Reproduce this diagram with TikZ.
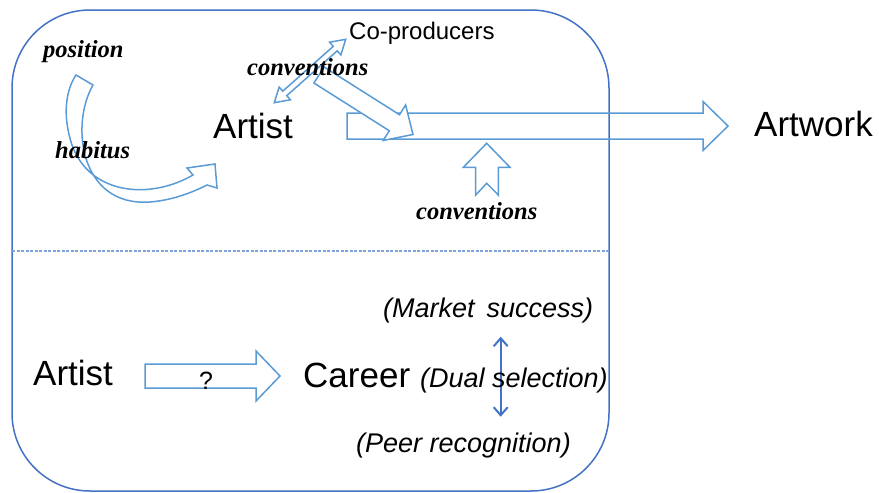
\documentclass[tikz,border=0pt]{standalone}
\usepackage{fontspec}
\setmainfont{Liberation Serif}
\newfontfamily\arialfont{Liberation Sans}
\usetikzlibrary{calc,arrows.meta}
\definecolor{boxblue}{HTML}{4472C4}
\definecolor{arrblue}{HTML}{5B9BD5}
\definecolor{dashblue}{HTML}{7FA3DC}
\tikzset{
  blockarrow/.style={draw=arrblue, line width=1.5pt, line join=miter},
  serifl/.style={font=\bfseries\itshape\fontsize{24.5}{28}\selectfont, anchor=base west, inner sep=0pt},
  sansbig/.style={font=\arialfont\fontsize{35}{40}\selectfont, anchor=base west, inner sep=0pt},
  sansmid/.style={font=\arialfont\fontsize{24}{28}\selectfont, anchor=base west, inner sep=0pt},
  sansit/.style={font=\arialfont\itshape\fontsize{27}{30}\selectfont, anchor=base west, inner sep=0pt},
}
% straight block arrow: [opts]{from}{to}{shaft half}{head half}{head length}
\newcommand{\myBArrow}[6][]{%
  \coordinate (bAh) at ($(#3)!#6!(#2)$);
  \draw[blockarrow,#1] ($(#2)!#4!90:(#3)$) -- ($(bAh)!#4!90:(#3)$) -- ($(bAh)!#5!90:(#3)$) -- (#3)
    -- ($(bAh)!#5!-90:(#3)$) -- ($(bAh)!#4!-90:(#3)$) -- ($(#2)!#4!-90:(#3)$) -- cycle;}
% double-headed block arrow
\newcommand{\myDArrow}[6][]{%
  \coordinate (dAh1) at ($(#2)!#6!(#3)$);
  \coordinate (dAh2) at ($(#3)!#6!(#2)$);
  \draw[blockarrow,#1] (#2) -- ($(dAh1)!#5!90:(#3)$) -- ($(dAh1)!#4!90:(#3)$) -- ($(dAh2)!#4!90:(#3)$)
    -- ($(dAh2)!#5!90:(#3)$) -- (#3) -- ($(dAh2)!#5!-90:(#3)$) -- ($(dAh2)!#4!-90:(#3)$)
    -- ($(dAh1)!#4!-90:(#3)$) -- ($(dAh1)!#5!-90:(#3)$) -- cycle;}
\begin{document}
\begin{tikzpicture}[x=1pt,y=-1pt]
\useasboundingbox (0,0) rectangle (879,493);
% frame
\draw[boxblue, line width=1.5pt, rounded corners=78pt] (12,10) rectangle (609,491);
\draw[dashblue, line width=1.1pt, dash pattern=on 3pt off 1.5pt] (12,251) -- (609,251);

% coordinates of connectors
\coordinate (hzS) at (347,126);
\coordinate (hzE) at (728,126);
\coordinate (dgS) at (319,75);
\coordinate (dgE) at (413,134.5);
\coordinate (daA) at (274.3,102.7);
\coordinate (daB) at (345.7,39.3);
\coordinate (qS) at (145,376);
\coordinate (qE) at (280,376);

% big horizontal arrow to Artwork
\myBArrow{hzS}{hzE}{13pt}{24.5pt}{25pt}
% diagonal arrow from co-producers into flow
\myBArrow[fill=white]{dgS}{dgE}{9.5pt}{21pt}{22pt}
% double arrow Artist <-> Co-producers
\myDArrow[fill=white]{daA}{daB}{3pt}{8.5pt}{14pt}
% curved arrow position -> habitus -> Artist
\draw[blockarrow] (76,75) -- (93,85)
  .. controls (70,125) and (80,207) .. (150,202)
  .. controls (175,200) and (195,191) .. (207,185)
  -- (217,188) -- (215,164) -- (187,168) -- (193,175)
  .. controls (150,200) and (90,195) .. (72,145)
  .. controls (62,115) and (66,90) .. (76,75) -- cycle;
% notched up arrow (conventions)
\draw[blockarrow] (475.7,195) -- (475.7,167.3) -- (463.3,167.3) -- (486.7,143.3) -- (510,167.3)
  -- (498.3,167.3) -- (498.3,195) -- (486.7,183.3) -- cycle;
% bottom arrow Artist -> Career
\myBArrow{qS}{qE}{12pt}{25pt}{24pt}
% dual selection vertical arrow
\coordinate (vT) at (500.7,336.7);
\coordinate (vB) at (500.7,416.7);
\draw[boxblue, line width=2pt, {Straight Barb[length=8pt,width=14pt]}-{Straight Barb[length=8pt,width=14pt]}] (vT) -- (vB);

% texts
\node[serifl] (pos) at (43,57) {position};
\node[serifl] (hab) at (55,158) {habitus};
\node[serifl] (conv1) at (247,75) {conventions};
\node[serifl] (conv2) at (416,219) {conventions};
\node[sansbig] (artist1) at (213,138) {Artist};
\node[sansmid] (coprod) at (349,39) {Co-producers};
\node[sansbig] (artwork) at (754,136) {Artwork};
\node[sansbig] (artist2) at (33,385) {Artist};
\node[sansbig] (career) at (303,387) {Career};
\node[font=\arialfont\fontsize{25}{30}\selectfont, anchor=base west, inner sep=0pt] (q) at (199,389) {?};
\node[sansit] (market) at (383,317) {(Market\, success)};
\node[sansit] (dual) at (420,387) {(Dual selection)};
\node[sansit] (peer) at (356,452) {(Peer recognition)};
\end{tikzpicture}
\end{document}
